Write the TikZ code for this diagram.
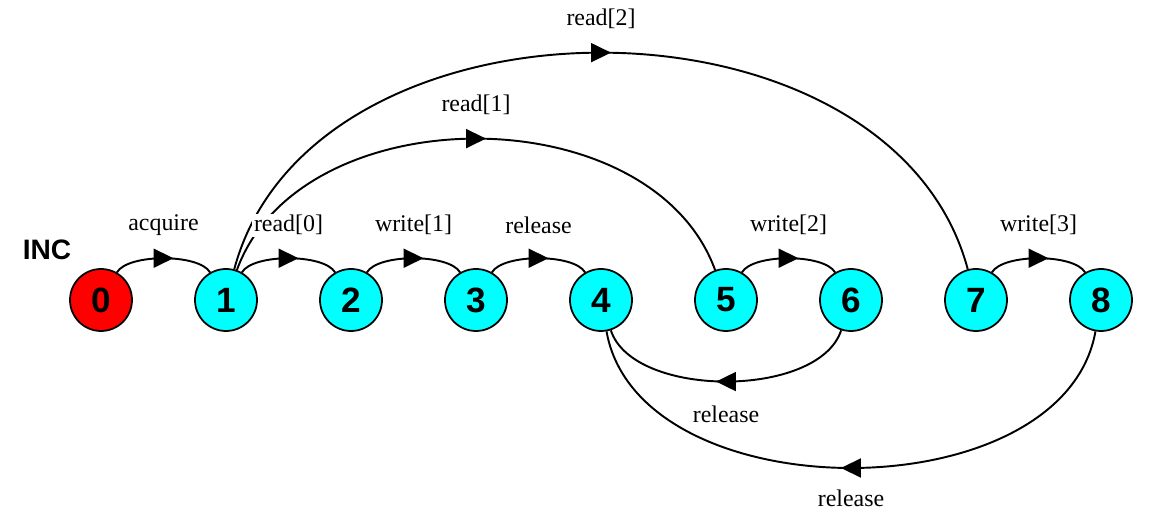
\documentclass[tikz,border=0pt]{standalone}
\usepackage{fontspec}
\setmainfont{Liberation Serif}
\newfontfamily\statefont{Liberation Sans}
\usepackage{xcolor}
\definecolor{errstate}{RGB}{255,0,0}
\definecolor{okstate}{RGB}{0,255,255}
\usetikzlibrary{arrows.meta,positioning,decorations.markings}

\begin{document}
\begin{tikzpicture}[node distance=2.5cm,
    state/.style={circle, draw, line width=1pt, fill=okstate, minimum size=1.24cm, inner sep=0pt, font=\statefont\bfseries\fontsize{20}{22}\selectfont},
    errnode/.style={state, fill=errstate},
    lbl/.style={fill=white, inner sep=1pt, font=\fontsize{13.6}{15}\selectfont},
    trans/.style={draw, line width=1.1pt, postaction={decorate},
        decoration={markings, mark=at position 0.5 with {\pgftransformxshift{0.2cm}\arrow{Triangle[length=0.4cm, width=0.38cm]}}}}]

    \useasboundingbox (-2.02,-4.4) rectangle (21.06,6.0);

    % States
    \node [errnode] (s0) {0};
    \node [state, right of=s0] (s1) {1};
    \node [state, right of=s1] (s2) {2};
    \node [state, right of=s2] (s3) {3};
    \node [state, right of=s3] (s4) {4};
    \node [state, right of=s4] (s5) {5};
    \node [state, right of=s5] (s6) {6};
    \node [state, right of=s6] (s7) {7};
    \node [state, right of=s7] (s8) {8};

    % Process name
    \node [font=\statefont\bfseries\fontsize{16}{18}\selectfont] (inc) at (-1.08,1.0) {INC};

    % Long transitions
    \path [trans] (s1) to [out=75, in=105, looseness=1.045] node [lbl, yshift=0.68cm] {read[2]} (s7);
    \path [trans] (s1) to [out=70, in=110, looseness=1.0] node [lbl, yshift=0.68cm] {read[1]} (s5);
    \path [trans] (s8) to [bend left=80, looseness=0.97] node [lbl, yshift=-0.6cm] {release} (s4);
    \path [trans] (s6) to [bend left=72, looseness=0.8] node [lbl, yshift=-0.66cm] {release} (s4);

    % Short transitions
    \path [trans] (s0) to [bend left=60, looseness=0.6] node [lbl, yshift=0.66cm] {acquire} (s1);
    \path [trans] (s1) to [bend left=60, looseness=0.6] node [lbl, yshift=0.66cm] {read[0]} (s2);
    \path [trans] (s2) to [bend left=60, looseness=0.6] node [lbl, yshift=0.66cm] {write[1]} (s3);
    \path [trans] (s3) to [bend left=60, looseness=0.6] node [lbl, yshift=0.66cm] {release} (s4);
    \path [trans] (s5) to [bend left=60, looseness=0.6] node [lbl, yshift=0.66cm] {write[2]} (s6);
    \path [trans] (s7) to [bend left=60, looseness=0.6] node [lbl, yshift=0.66cm] {write[3]} (s8);
\end{tikzpicture}
\end{document}
